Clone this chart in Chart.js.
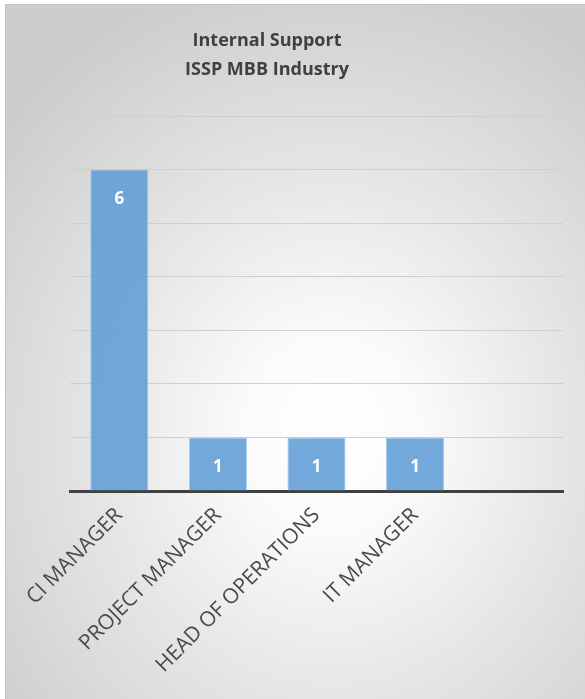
<!doctype html>
<html lang="en">
  <head>
    <meta charset="utf-8">
    <title>Internal Support - ISSP MBB Industry</title>
    <script src="https://cdn.jsdelivr.net/npm/chart.js"></script>
    <style>
      html, body { margin: 0; padding: 0; background: #fff; }
      #wrap { position: relative; width: 585px; height: 699px; overflow: hidden; }
      #frame {
        position: absolute; left: 5px; top: 4px; width: 620px; height: 740px;
        border: 1px solid #c4c4c4;
        background: radial-gradient(ellipse 420px 470px at 325px 430px, #ffffff 0%, #fbfbfb 20%, #e6e6e6 55%, #cdcdcd 100%);
      }
      #chartBox { position: absolute; left: 0; top: 0; width: 585px; height: 699px; }
    </style>
  </head>
  <body>
    <div id="wrap">
      <div id="frame"></div>
      <div id="chartBox"><canvas id="supportChart" width="585" height="699"></canvas></div>
    </div>

    <script>
    // chart data
    const titleLines = ['Internal Support', 'ISSP MBB Industry'];
    const roles = ['CI MANAGER', 'PROJECT MANAGER', 'HEAD OF OPERATIONS', 'IT MANAGER', ''];
    const counts = [6, 1, 1, 1, null];
    const yMax = 7;

    // two-line title, centred on the chart object rather than the plot area
    const chartTitle = {
      id: 'chartTitle',
      afterDraw(chart) {
        const ctx = chart.ctx;
        ctx.save();
        ctx.font = 'bold 18px "Open Sans"';
        ctx.fillStyle = '#404040';
        ctx.textAlign = 'center';
        ctx.textBaseline = 'middle';
        titleLines.forEach((line, i) => ctx.fillText(line, 267, 41 + i * 29));
        ctx.restore();
      }
    };

    // white count labels just inside the top of each bar
    const barLabels = {
      id: 'barLabels',
      afterDatasetsDraw(chart) {
        const ctx = chart.ctx;
        const meta = chart.getDatasetMeta(0);
        ctx.save();
        ctx.font = 'bold 17px "Open Sans"';
        ctx.fillStyle = '#ffffff';
        ctx.textAlign = 'center';
        ctx.textBaseline = 'middle';
        meta.data.forEach((bar, i) => {
          if (counts[i] == null) return;
          ctx.fillText(String(counts[i]), bar.x, bar.y + 30);
        });
        ctx.restore();
      }
    };

    const ctx = document.getElementById('supportChart').getContext('2d');
    const supportChart = new Chart(ctx, {
      type: 'bar',
      data: {
        labels: roles,
        datasets: [{
          label: 'Count',
          data: counts,
          backgroundColor: 'rgba(91, 155, 213, 0.85)',
          borderColor: 'rgba(160, 200, 236, 0.9)',
          borderWidth: 1,
          barPercentage: 0.59,
          categoryPercentage: 1.0
        }]
      },
      options: {
        responsive: false,
        animation: false,
        layout: { padding: { left: 70, right: 22, top: 116, bottom: 0 } },
        plugins: {
          legend: { display: false },
          tooltip: { enabled: false },
          title: { display: false }
        },
        scales: {
          x: {
            grid: { display: false },
            border: { color: '#404040', width: 3 },
            ticks: {
              color: '#4a4a4a',
              font: { family: 'Open Sans', size: 21 },
              minRotation: 45,
              maxRotation: 45,
              padding: 4
            },
            afterFit(scale) { scale.height = 208; }
          },
          y: {
            min: 0,
            max: yMax,
            ticks: { display: false, stepSize: 1 },
            grid: { color: '#cfcfcf', drawTicks: false },
            border: { display: false },
            afterFit(scale) { scale.width = 0; }
          }
        }
      },
      plugins: [chartTitle, barLabels]
    });
    </script>
  </body>
</html>
